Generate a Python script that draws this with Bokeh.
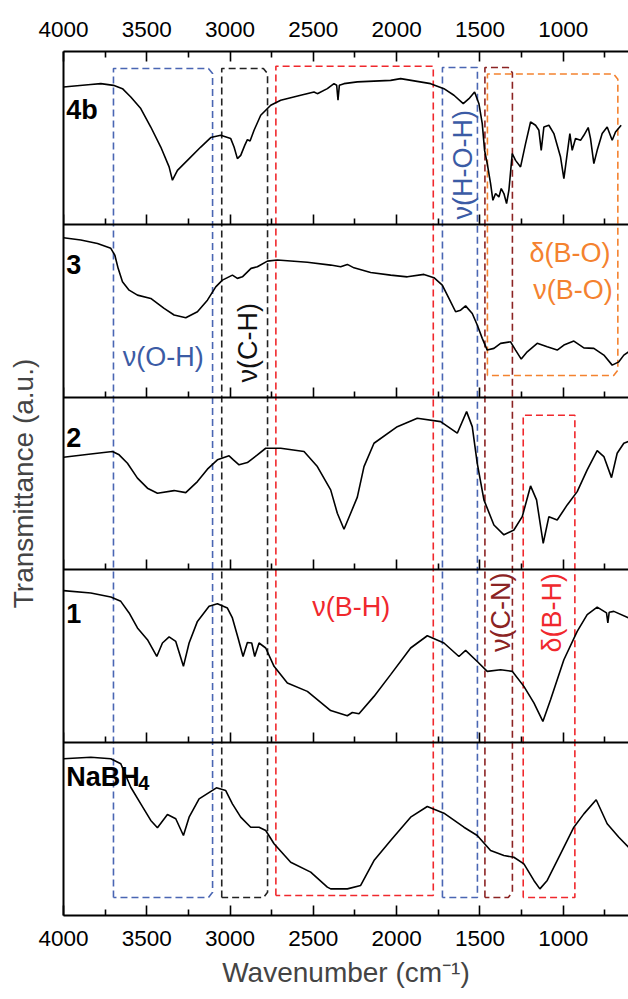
from bokeh.plotting import figure
from bokeh.models import Range1d, LinearAxis, FixedTicker
from bokeh.embed import file_html
from bokeh.resources import INLINE
from bokeh.core.properties import value
import math

# ---------------- data (wavenumber in cm-1, transmittance in a.u., 0-100 within each panel) -------------
w_4b = [4000, 3836, 3776, 3700, 3646, 3596, 3536, 3476, 3416, 3366, 3346, 3316, 3256, 3176, 3116, 3056,
        2996, 2976, 2956, 2936, 2912, 2896, 2880, 2856, 2816, 2756, 2696, 2576, 2496, 2476, 2416, 2376,
        2360, 2352, 2344, 2316, 2236, 2036, 1976, 1796, 1716, 1656, 1600, 1566, 1532, 1506, 1486, 1472,
        1456, 1436, 1422, 1406, 1386, 1372, 1356, 1340, 1326, 1306, 1286, 1256, 1226, 1196, 1166, 1146,
        1132, 1116, 1086, 1056, 1016, 996, 976, 960, 946, 926, 896, 876, 850, 836, 816, 796, 766, 736,
        706, 686, 652]
t_4b = [79.5, 80.9, 81.4, 80.4, 78.5, 73.7, 67.0, 56.3, 44.7, 33.2, 25.5, 31.2, 37.0, 44.7, 50.2, 51.5,
        49.6, 44.7, 38.0, 39.9, 45.7, 49.0, 48.2, 54.4, 63.1, 68.9, 71.8, 74.7, 76.6, 75.6, 78.5, 81.4,
        80.5, 71.8, 80.4, 81.4, 82.4, 83.3, 84.3, 81.4, 78.5, 74.7, 69.8, 72.7, 76.6, 69.8, 58.3, 42.8,
        35.1, 23.6, 13.9, 17.8, 15.8, 20.7, 17.8, 12.0, 19.7, 40.9, 37.0, 33.2, 46.7, 59.2, 57.3, 54.4,
        42.8, 56.3, 57.3, 52.5, 38.9, 26.4, 40.9, 52.5, 42.8, 49.6, 48.6, 51.5, 56.0, 49.6, 35.1, 42.8,
        52.5, 56.3, 48.6, 53.4, 57.3]

w_3 = [4000, 3896, 3796, 3716, 3692, 3672, 3646, 3606, 3556, 3476, 3396, 3336, 3266, 3196, 3136, 3086,
       3046, 2986, 2956, 2926, 2874, 2836, 2776, 2716, 2536, 2396, 2336, 2296, 2256, 2156, 2036, 1936,
       1836, 1776, 1726, 1686, 1646, 1616, 1586, 1546, 1516, 1486, 1456, 1416, 1376, 1316, 1286, 1252,
       1216, 1156, 1096, 1036, 996, 936, 876, 816, 756, 706, 666, 636, 608]
t_3 = [92.2, 90.9, 88.9, 86.1, 82.2, 74.5, 66.7, 61.9, 59.0, 57.1, 51.3, 47.5, 45.9, 49.4, 56.1, 63.8,
       67.7, 70.6, 68.7, 69.6, 74.5, 75.4, 78.7, 79.3, 78.0, 76.4, 75.4, 76.8, 74.8, 72.1, 70.6, 69.6,
       71.0, 69.1, 64.8, 57.1, 49.4, 50.3, 52.8, 48.4, 41.7, 34.0, 27.2, 28.2, 31.1, 32.0, 27.2, 22.0,
       26.2, 31.1, 29.1, 27.2, 30.1, 32.4, 28.5, 28.2, 24.3, 18.5, 20.4, 24.3, 26.2]

w_2 = [4000, 3836, 3706, 3666, 3616, 3556, 3496, 3436, 3336, 3266, 3196, 3136, 3076, 3006, 2980, 2946,
       2896, 2836, 2786, 2696, 2556, 2476, 2396, 2356, 2316, 2276, 2236, 2196, 2136, 1996, 1876, 1736,
       1636, 1580, 1546, 1516, 1476, 1416, 1356, 1296, 1246, 1196, 1160, 1120, 1086, 1036, 976, 916,
       856, 796, 756, 710, 676, 636, 608]
t_2 = [65.2, 67.1, 68.5, 66.6, 61.7, 53.1, 47.3, 44.4, 45.9, 44.7, 51.1, 58.3, 63.7, 66.0, 63.7, 60.8,
       62.1, 66.6, 70.4, 70.4, 68.5, 59.8, 46.3, 32.8, 23.5, 32.8, 42.1, 59.8, 73.3, 82.9, 87.8, 85.8,
       79.1, 91.6, 82.9, 61.7, 40.5, 26.0, 20.3, 23.1, 30.8, 48.6, 40.5, 15.4, 30.8, 28.9, 37.6, 45.3,
       57.9, 69.0, 65.6, 53.4, 67.5, 73.3, 74.3]

w_1 = [4000, 3836, 3716, 3656, 3606, 3556, 3496, 3440, 3406, 3366, 3326, 3280, 3246, 3196, 3126, 3076,
       3016, 2986, 2952, 2922, 2896, 2870, 2852, 2826, 2786, 2736, 2656, 2536, 2396, 2296, 2266, 2226,
       2136, 2036, 1916, 1816, 1716, 1626, 1586, 1516, 1456, 1376, 1306, 1236, 1176, 1122, 1076, 996,
       916, 856, 796, 740, 732, 724, 696, 608]
t_1 = [88.0, 86.6, 84.3, 81.8, 75.1, 66.4, 59.6, 49.9, 57.7, 61.2, 58.6, 44.2, 57.7, 70.2, 78.9, 80.4,
       77.9, 72.2, 60.6, 49.9, 58.0, 57.7, 49.9, 57.7, 54.8, 44.2, 34.5, 29.7, 18.6, 15.6, 17.5, 16.8,
       26.8, 39.4, 54.8, 61.9, 57.7, 49.9, 53.4, 47.0, 41.3, 42.2, 41.3, 32.6, 23.0, 12.3, 24.9, 48.0,
       64.4, 74.1, 78.5, 75.1, 69.3, 75.5, 76.0, 72.2]

w_nabh4 = [4000, 3836, 3716, 3656, 3596, 3536, 3476, 3436, 3376, 3326, 3280, 3246, 3186, 3082, 3026, 2986,
           2936, 2876, 2826, 2786, 2736, 2636, 2516, 2416, 2396, 2296, 2216, 2136, 2036, 1916, 1816, 1716,
           1596, 1516, 1436, 1356, 1296, 1236, 1176, 1140, 1096, 1016, 936, 876, 802, 736, 666, 608]
t_nabh4 = [90.7, 91.6, 90.7, 87.8, 74.2, 64.6, 55.0, 50.8, 58.4, 56.0, 46.3, 56.9, 67.5, 73.9, 72.3, 64.6,
           56.9, 51.1, 51.1, 49.2, 41.5, 30.8, 25.1, 16.4, 15.4, 15.4, 17.4, 31.8, 43.4, 56.9, 63.1, 59.2,
           51.1, 46.3, 37.6, 34.7, 33.7, 29.9, 20.3, 15.4, 20.3, 35.7, 51.1, 58.8, 67.0, 53.1, 45.3, 39.5]

sample_names = ["NaBH4", "1", "2", "3", "4b"]          # bottom -> top
sample_w = [w_nabh4, w_1, w_2, w_3, w_4b]
sample_t = [t_nabh4, t_1, t_2, t_3, t_4b]

major_ticks = [4000, 3500, 3000, 2500, 2000, 1500, 1000]
minor_ticks = [3750, 3250, 2750, 2250, 1750, 1250, 750]

# band assignment boxes: wavenumber limits and vertical extent (in panel units, 0 = bottom, 5 = top)
box_left = [3700, 3050, 2725, 1725, 1470, 1455, 1240]
box_right = [3105, 2775, 1780, 1515, 1305, 672, 930]
box_top = [4.902, 4.902, 4.915, 4.907, 4.907, 4.870, 2.895]
box_bottom = [0.104, 0.104, 0.116, 0.104, 0.104, 3.125, 0.104]
box_color = ["#4a66b3", "#222222", "#f0282d", "#4a66b3", "#8b2323", "#f4822f", "#f0282d"]
box_chamfer = [True, True, False, False, True, True, False]

band_text = ["ν(O-H)", "ν(C-H)", "ν(B-H)", "ν(H-O-H)", "δ(B-O)", "ν(B-O)", "ν(C-N)", "δ(B-H)"]
band_x = [3401, 2891, 2273, 1601, 959, 941, 1376, 1070]
band_y = [3.231, 3.315, 1.787, 4.344, 3.836, 3.619, 1.755, 1.752]
band_vertical = [False, True, False, True, False, False, True, True]
band_color = ["#3b5ba5", "#111111", "#f0282d", "#3b5ba5", "#f4822f", "#f4822f", "#8b2323", "#f0282d"]

label_y = [0.80, 1.747, 2.764, 3.768, 4.66]

# ---------------- figure ----------------
p = figure(width=628, height=995, x_range=Range1d(4000, 608), y_range=Range1d(0, 5),
           x_axis_type=None, y_axis_type=None, output_backend="svg", toolbar_location=None,
           min_border_left=63, min_border_right=0, min_border_top=51, min_border_bottom=80)
p.outline_line_color = None
p.background_fill_color = "white"

FONT = "Liberation Sans"


def make_axis(with_labels, fixed=None):
    ax = LinearAxis(ticker=FixedTicker(ticks=major_ticks, minor_ticks=minor_ticks))
    ax.axis_line_width = 2
    ax.axis_line_color = "black"
    ax.major_tick_in = 10
    ax.major_tick_out = 0
    ax.minor_tick_in = 6
    ax.minor_tick_out = 0
    ax.major_tick_line_width = 1.6
    ax.minor_tick_line_width = 1.6
    if with_labels:
        ax.major_label_text_font = FONT
        ax.major_label_text_font_size = "22.5px"
        ax.major_label_text_color = "black"
        ax.major_label_standoff = 15
    else:
        ax.major_label_text_font_size = "0px"
        ax.major_label_text_color = None
        ax.major_label_standoff = 0
    if fixed is not None:
        ax.fixed_location = fixed
    return ax


bottom_axis = make_axis(True)
bottom_axis.axis_label = "Wavenumber (cm⁻¹)"
bottom_axis.axis_label_text_font = FONT
bottom_axis.axis_label_text_font_size = "28px"
bottom_axis.axis_label_text_font_style = "normal"
bottom_axis.axis_label_standoff = 8
p.add_layout(bottom_axis, "below")

top_axis = make_axis(True)
p.add_layout(top_axis, "above")

for k in range(1, 5):
    p.add_layout(make_axis(False, fixed=k), "below")

left_axis = LinearAxis(ticker=FixedTicker(ticks=[]))
left_axis.axis_line_width = 2
left_axis.major_tick_in = 0
left_axis.major_tick_out = 0
left_axis.minor_tick_in = 0
left_axis.minor_tick_out = 0
left_axis.major_label_text_font_size = "0px"
left_axis.major_label_text_color = None
left_axis.major_label_standoff = 0
left_axis.axis_label = "Transmittance (a.u.)"
left_axis.axis_label_text_font = FONT
left_axis.axis_label_text_font_size = "28px"
left_axis.axis_label_text_font_style = "normal"
left_axis.axis_label_standoff = 25
p.add_layout(left_axis, "left")

# ---------------- boxes ----------------
cx = 25.0
cy = 0.03
for L, R, T, B, col, ch in zip(box_left, box_right, box_top, box_bottom, box_color, box_chamfer):
    if ch:
        xs = [L, L, R + cx, R, R, R + cx, L]
        ys = [B, T, T, T - cy, B + cy, B, B]
    else:
        xs = [L, L, R, R, L]
        ys = [B, T, T, B, B]
    p.line(xs, ys, line_color=col, line_width=1.6, line_dash="7 4")

# ---------------- spectra ----------------
for i, (ws, ts) in enumerate(zip(sample_w, sample_t)):
    ys = [i + t / 100.0 for t in ts]
    p.line(ws, ys, line_color="black", line_width=1.6)

# ---------------- labels ----------------
names_main = ["NaBH", "1", "2", "3", "4b"]
p.text(x=[3983] * 5, y=label_y, text=names_main, text_font=value(FONT), text_font_size=value("27px"),
       text_font_style="bold", text_align="left", text_baseline="middle", text_color="black")
p.text(x=[3983], y=[label_y[0]], text=["4"], x_offset=72, y_offset=6, text_font=value(FONT),
       text_font_size=value("20px"), text_font_style="bold", text_align="left", text_baseline="middle",
       text_color="black")

for txt, x, y, vert, col in zip(band_text, band_x, band_y, band_vertical, band_color):
    p.text(x=[x], y=[y], text=[txt], angle=(math.pi / 2 if vert else 0.0), text_font=value(FONT),
           text_font_size=value("27px"), text_align="center", text_baseline="middle", text_color=col)

open("out.html", "w").write(file_html(p, INLINE))
